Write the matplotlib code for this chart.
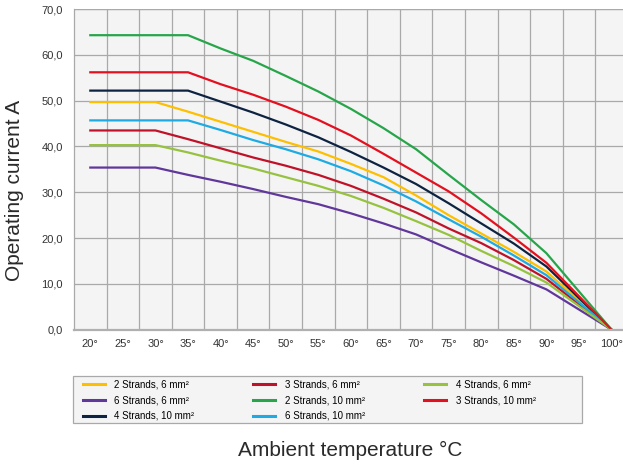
import numpy as np
import matplotlib
matplotlib.use('Agg')
import matplotlib.pyplot as plt
from matplotlib.patches import Rectangle

plt.rcParams['font.family'] = ['Liberation Sans', 'DejaVu Sans']

temps = [20, 25, 30, 35, 40, 45, 50, 55, 60, 65, 70, 75, 80, 85, 90, 100]

s2_6mm = [49.7, 49.7, 49.7, 47.6, 45.4, 43.2, 41.0, 38.9, 36.2, 33.3, 29.3, 25.0, 21.0, 17.0, 12.7, 0]
s3_6mm = [43.5, 43.5, 43.5, 41.6, 39.6, 37.6, 35.8, 33.8, 31.4, 28.6, 25.6, 22.1, 18.9, 15.2, 11.1, 0]
s4_6mm = [40.3, 40.3, 40.3, 38.7, 36.9, 35.2, 33.3, 31.4, 29.2, 26.6, 23.7, 20.7, 17.2, 13.9, 10.3, 0]
s6_6mm = [35.4, 35.4, 35.4, 33.8, 32.3, 30.7, 29.0, 27.4, 25.4, 23.2, 20.8, 17.7, 14.7, 11.8, 8.8, 0]
s2_10mm = [64.3, 64.3, 64.3, 64.3, 61.4, 58.7, 55.4, 52.0, 48.2, 44.0, 39.4, 33.8, 28.3, 23.0, 16.7, 0]
s3_10mm = [56.2, 56.2, 56.2, 56.2, 53.6, 51.3, 48.7, 45.8, 42.4, 38.4, 34.3, 30.2, 25.4, 20.1, 14.6, 0]
s4_10mm = [52.2, 52.2, 52.2, 52.2, 49.8, 47.4, 44.8, 42.0, 38.8, 35.4, 31.8, 27.6, 23.2, 18.8, 13.8, 0]
s6_10mm = [45.7, 45.7, 45.7, 45.7, 43.6, 41.4, 39.4, 37.2, 34.6, 31.5, 28.0, 24.1, 20.3, 16.2, 11.9, 0]

# legend order (column-wise fill)
series = [
    ('2 Strands, 6 mm²', s2_6mm, '#fdbf00'),
    ('6 Strands, 6 mm²', s6_6mm, '#60379a'),
    ('4 Strands, 10 mm²', s4_10mm, '#0e2341'),
    ('3 Strands, 6 mm²', s3_6mm, '#bf1228'),
    ('2 Strands, 10 mm²', s2_10mm, '#27a54a'),
    ('6 Strands, 10 mm²', s6_10mm, '#1eaae2'),
    ('4 Strands, 6 mm²', s4_6mm, '#96c23f'),
    ('3 Strands, 10 mm²', s3_10mm, '#e3101f'),
]

x_ticks = list(range(20, 101, 5))
y_ticks = list(range(0, 71, 10))

fig = plt.figure(figsize=(6.23, 4.66), dpi=100)
ax = fig.add_axes([0.1188, 0.2925, 0.889, 0.688])
ax.set_facecolor('#f4f4f4')

for label, vals, col in series:
    ax.plot(temps, vals, color=col, lw=1.6, label=label, solid_joinstyle='round')

ax.set_xlim(17.5, 102.5)
ax.set_ylim(0, 70)
ax.set_xticks(x_ticks)
ax.set_xticklabels([f'{t}°' for t in x_ticks])
ax.set_xticks(np.arange(22.5, 100, 5), minor=True)
ax.set_yticks(y_ticks)
ax.set_yticklabels([f'{v:.1f}'.replace('.', ',') for v in y_ticks])

ax.grid(axis='x', which='minor', color='#a9a9a9', lw=0.9)
ax.grid(axis='y', which='major', color='#a9a9a9', lw=0.9)
ax.set_axisbelow(True)
ax.tick_params(which='both', length=0)
ax.tick_params(axis='x', pad=7, labelsize=8, labelcolor='#333333')
ax.tick_params(axis='y', pad=8, labelsize=8, labelcolor='#333333')

for s in ['top', 'right']:
    ax.spines[s].set_visible(False)
ax.axhline(70, color='#a9a9a9', lw=0.9, zorder=0.5)
ax.spines['left'].set_color('#a9a9a9')
ax.spines['left'].set_linewidth(0.9)
ax.spines['bottom'].set_color('#b0b0b0')
ax.spines['bottom'].set_linewidth(1.6)

fig.text(15 / 623, 0.5906, 'Operating current A', rotation=90, va='center', ha='center',
         fontsize=15, color='#2a2a2a')
fig.text(0.5626, 0.0343, 'Ambient temperature °C', va='center', ha='center',
         fontsize=15, color='#2a2a2a')

# legend box
box = Rectangle((73.3 / 623, (466 - 423.3) / 466), (581.7 - 73.3) / 623, 47.3 / 466,
                transform=fig.transFigure, facecolor='#f4f4f4', edgecolor='#a9a9a9', lw=0.9)
fig.add_artist(box)

handles, labels = ax.get_legend_handles_labels()
leg = fig.legend(handles, labels, ncol=3, loc='upper left',
                 bbox_to_anchor=(82.7 / 623, (466 - 379.3) / 466),
                 borderaxespad=0, borderpad=0, fontsize=7, frameon=False,
                 handlelength=2.25, handletextpad=1.0, labelspacing=0.6,
                 columnspacing=6.05)
for line in leg.get_lines():
    line.set_linewidth(2.2)

fig.savefig('out.png', dpi=100)
